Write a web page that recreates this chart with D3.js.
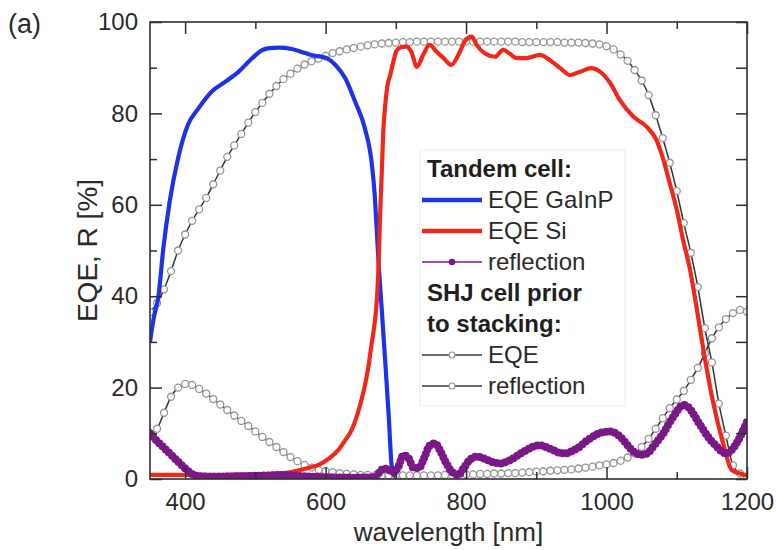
<!DOCTYPE html>
<html>
<head>
<meta charset="utf-8">
<script src="https://cdn.jsdelivr.net/npm/d3@7"></script>
<style>
  html, body { margin: 0; padding: 0; background: #fff; }
  svg { display: block; font-family: "Liberation Sans", Arial, sans-serif; }
</style>
</head>
<body>
<svg id="chart" width="776" height="550"></svg>
<script>
// Wavelength grid of the SHJ reference-cell measurements (nm)
const shjWavelength = [350,360,370,380,390,400,410,420,430,440,450,460,470,480,490,500,510,520,530,540,
  550,560,570,580,590,600,610,620,630,640,650,660,670,680,690,700,710,720,730,740,
  750,760,770,780,790,800,810,820,830,840,850,860,870,880,890,900,910,920,930,940,
  950,960,970,980,990,1000,1010,1020,1030,1040,1050,1060,1070,1080,1090,1100,1110,1120,1130,1140,
  1150,1160,1170,1180,1190,1200];

// SHJ cell prior to stacking: EQE (%)
const shjEQE = [36.5,38.5,41.5,45.5,50,53.5,56.5,59,61.5,64.5,67.5,70.5,73,75.5,78,80.3,82.3,84.3,86,87.5,
  88.7,89.8,90.7,91.4,92,92.6,93.2,93.6,94,94.3,94.6,94.9,95.1,95.3,95.4,95.5,95.6,95.6,95.7,95.7,
  95.7,95.7,95.7,95.7,95.7,95.7,95.7,95.7,95.7,95.7,95.7,95.7,95.7,95.6,95.6,95.6,95.6,95.6,95.6,95.5,
  95.5,95.5,95.4,95.3,95.1,94.7,94,92.9,91.5,89.5,87.2,84,79.6,74.6,69.2,63,56,49.5,42,33,
  25.5,16.5,9.5,3,1.2,0.5];

// SHJ cell prior to stacking: reflection (%)
const shjReflection = [9.5,11,14.5,18,20,20.8,20.6,19.7,18.7,17.5,16.3,15.1,13.9,12.7,11.6,10.4,9.2,8.1,7,5.9,
  4.8,3.9,3.1,2.5,2,1.7,1.5,1.3,1.1,1,0.9,0.9,0.8,0.8,0.8,0.8,0.8,0.8,0.8,0.8,
  0.8,0.8,0.9,0.9,0.9,1,1,1.1,1.1,1.2,1.2,1.3,1.3,1.4,1.5,1.6,1.7,1.8,1.9,2,
  2.1,2.3,2.5,2.7,3,3.2,3.5,4,4.7,5.6,7,8.8,11,13.3,15.5,17.4,19.3,21.7,24.3,27.5,
  30.8,33.2,35,36.3,37,36.6];

// Tandem cell: EQE of the GaInP top cell
const gainpWavelength = [350,355,362,369,378,390,404,419,438,457,476,495,509,520,533,552,571,585,594,605,
  614,628,642,656,666,670,673,676,680,685,690,694,697,700];
const gainpEQE = [30,35,40,50.5,60.7,70.2,77.5,81.1,84.8,86.9,89.1,92,93.8,94.3,94.4,94.1,93.2,92.6,92.4,91.8,
  90.6,87.7,82.6,76.7,68.7,62,54,46,37,25.5,13.5,3,1,0.6];

// Tandem cell: EQE of the Si bottom cell
const siWavelength = [350,380,400,450,500,540,556,575,590,605,618,628,637,645,651,656,661,665,668,673,
  675,677.5,680,682,685,688,692,696,701,708,715,722,730,739,748,758,768,779,789,798,
  808,815,827,841,853,862,872,886,905,919,934,948,962,978,991,1005,1019,1038,1057,1071,
  1081,1090,1100,1109,1119,1128,1138,1152,1166,1178,1190,1200];
const siEQE = [0.9,0.9,0.9,0.9,1,1.3,1.7,2.4,3.1,4.5,6.3,8.5,10.7,14,17.3,20.5,24.6,29,32,39.2,
  45,57.4,67,75.6,82,86,88.4,91,93.7,94.5,94.6,93.5,90.2,92.8,95,93.5,92.1,90.6,92.8,95.7,
  96.8,95,93.1,92.4,93.9,93.1,92.1,92.1,92.8,91.7,89.9,88.4,89.1,89.9,89.1,86.7,82.9,79.3,77.1,74.2,
  69.8,64.7,58.9,52.3,45.7,37.7,28.2,16.6,7.8,2,1.2,0.8];

// Tandem cell: reflection
const tandemWavelength = [350,360,370,380,390,400,410,420,440,480,520,540,560,600,640,670,677,683,690,697,
  703,711,718,725,733,740,748,756,763,772,781,789,797,806,815,822,830,840,848,858,
  867,877,886,896,905,914,924,934,943,952,962,972,981,993,1005,1015,1024,1032,1040,1050,
  1058,1066,1074,1081,1088,1095,1102,1109,1116,1123,1130,1138,1147,1157,1164,1171,1178,1185,1192,1200];
const tandemReflection = [10,8.3,6.8,5.3,3.8,2.3,1.1,0.6,0.5,0.6,0.8,0.9,0.7,0.4,0.3,0.4,1.5,2.3,2,1.4,
  2.5,5.2,4.6,2.5,2.4,4.5,7.3,7.8,6.2,3.4,1.4,0.9,2.5,4.3,4.9,4.7,4.2,3.6,3.4,3.8,
  4.5,5.5,6.3,7.1,7.4,7,6.3,5.7,5.6,6.2,7.1,8.4,9.3,10.2,10.4,9.8,8.5,7,5.8,5.3,
  5.6,7,8.6,10,11.9,13.6,15.2,16.2,15.8,14.4,12.6,10.7,8.7,7.1,6,5.6,6.3,7.8,9.8,12.5];

// Axis ticks
const xMajorTicks = [400,600,800,1000,1200];
const xMinorTicks = [500,700,900,1100];
const yMajorTicks = [0,20,40,60,80,100];
const yMinorTicks = [10,30,50,70,90];

// Legend entries
const legendRows = [
  {label: "Tandem cell:", kind: "heading"},
  {label: "EQE GaInP", kind: "gainp"},
  {label: "EQE Si", kind: "si"},
  {label: "reflection", kind: "tandemR"},
  {label: "SHJ cell prior", kind: "heading"},
  {label: "to stacking:", kind: "heading"},
  {label: "EQE", kind: "shjEQE"},
  {label: "reflection", kind: "shjR"}
];

const colors = {
  gainp: "#1f33e6",
  si: "#f0281c",
  tandemR: "#7b1888",
  grayLine: "#333333",
  grayMarker: "#949494",
  axis: "#2e2e2e",
  text: "#2a2a2a"
};

const svg = d3.select("#chart");
const plot = {left: 150, right: 747, top: 22, bottom: 479};

const x = d3.scaleLinear().domain([350, 1200]).range([plot.left, plot.right]);
const y = d3.scaleLinear().domain([0, 100]).range([plot.bottom, plot.top]);

const zip = (xs, ys) => xs.map((v, i) => [v, ys[i]]);
const line = d3.line().x(d => x(d[0])).y(d => y(d[1])).curve(d3.curveMonotoneX);

svg.append("defs").append("clipPath").attr("id", "plotClip")
  .append("rect").attr("x", plot.left).attr("y", plot.top - 4)
  .attr("width", plot.right - plot.left).attr("height", plot.bottom - plot.top + 4);

const marks = svg.append("g").attr("clip-path", "url(#plotClip)");

// SHJ reference cell curves: dark connecting line with open circles
function markerSeries(data) {
  const g = marks.append("g");
  g.append("path").attr("d", line(data)).attr("fill", "none")
    .attr("stroke", colors.grayLine).attr("stroke-width", 1.5);
  g.selectAll("circle").data(data).join("circle")
    .attr("cx", d => x(d[0])).attr("cy", d => y(d[1])).attr("r", 3.5)
    .attr("fill", "#fff").attr("stroke", colors.grayMarker).attr("stroke-width", 1.3);
}
markerSeries(zip(shjWavelength, shjReflection));
markerSeries(zip(shjWavelength, shjEQE));

// Tandem EQE curves
marks.append("path").attr("d", line(zip(gainpWavelength, gainpEQE)))
  .attr("fill", "none").attr("stroke", colors.gainp).attr("stroke-width", 4.2)
  .attr("stroke-linejoin", "round");
marks.append("path").attr("d", line(zip(siWavelength, siEQE)))
  .attr("fill", "none").attr("stroke", colors.si).attr("stroke-width", 4.2)
  .attr("stroke-linejoin", "round");

// Tandem reflection: dense dotted trace
const tandemPath = line(zip(tandemWavelength, tandemReflection));
marks.append("path").attr("d", tandemPath).attr("fill", "none")
  .attr("stroke", colors.tandemR).attr("stroke-width", 5.5).attr("stroke-linejoin", "round");
marks.append("path").attr("d", tandemPath).attr("fill", "none")
  .attr("stroke", colors.tandemR).attr("stroke-width", 8)
  .attr("stroke-linecap", "round").attr("stroke-dasharray", "0 4.5");

// Axes with inward ticks on all four sides
function styleAxis(g) {
  g.select(".domain").remove();
  g.selectAll(".tick line").attr("stroke", colors.axis).attr("stroke-width", 1.5);
  g.selectAll(".tick text").attr("fill", colors.text)
    .style("font-size", "24px").style("font-family", "'Liberation Sans', Arial, sans-serif");
}
svg.append("g").attr("transform", `translate(0,${plot.bottom})`)
  .call(d3.axisBottom(x).tickValues(xMajorTicks).tickSize(-12).tickPadding(14).tickFormat(d3.format("d")))
  .call(styleAxis);
svg.append("g").attr("transform", `translate(0,${plot.bottom})`)
  .call(d3.axisBottom(x).tickValues(xMinorTicks).tickSize(-7).tickFormat(""))
  .call(styleAxis);
svg.append("g").attr("transform", `translate(0,${plot.top})`)
  .call(d3.axisTop(x).tickValues(xMajorTicks).tickSize(-12).tickFormat(""))
  .call(styleAxis);
svg.append("g").attr("transform", `translate(0,${plot.top})`)
  .call(d3.axisTop(x).tickValues(xMinorTicks).tickSize(-7).tickFormat(""))
  .call(styleAxis);
svg.append("g").attr("transform", `translate(${plot.left},0)`)
  .call(d3.axisLeft(y).tickValues(yMajorTicks).tickSize(-12).tickPadding(12).tickFormat(d3.format("d")))
  .call(styleAxis);
svg.append("g").attr("transform", `translate(${plot.left},0)`)
  .call(d3.axisLeft(y).tickValues(yMinorTicks).tickSize(-7).tickFormat(""))
  .call(styleAxis);
svg.append("g").attr("transform", `translate(${plot.right},0)`)
  .call(d3.axisRight(y).tickValues(yMajorTicks.concat(yMinorTicks)).tickSize(-11).tickFormat(""))
  .call(styleAxis);

// Frame
svg.append("rect").attr("x", plot.left).attr("y", plot.top)
  .attr("width", plot.right - plot.left).attr("height", plot.bottom - plot.top)
  .attr("fill", "none").attr("stroke", colors.axis).attr("stroke-width", 1.6);

// Axis titles and panel label
svg.append("text").attr("x", (plot.left + plot.right) / 2).attr("y", 541)
  .attr("text-anchor", "middle").attr("fill", colors.text).style("font-size", "26px")
  .text("wavelength [nm]");
svg.append("text").attr("transform", `translate(97,${(plot.top + plot.bottom) / 2}) rotate(-90)`)
  .attr("text-anchor", "middle").attr("fill", colors.text).style("font-size", "28px")
  .text("EQE, R [%]");
svg.append("text").attr("x", 8).attr("y", 33).attr("fill", colors.text)
  .style("font-size", "27px").text("(a)");

// Legend
const legend = svg.append("g");
legend.append("rect").attr("x", 420).attr("y", 150).attr("width", 205).attr("height", 256)
  .attr("fill", "#fff").attr("stroke", "#ececec").attr("stroke-width", 1);
const rowY = i => 177 + i * 31;
const sx0 = 422, sx1 = 482, textX = 488;
legendRows.forEach((row, i) => {
  const yy = rowY(i);
  if (row.kind === "heading") {
    legend.append("text").attr("x", 427).attr("y", yy).attr("fill", "#1e1e1e")
      .style("font-size", "24px").style("font-weight", "bold").text(row.label);
    return;
  }
  const ly = yy - 8;
  if (row.kind === "gainp" || row.kind === "si") {
    legend.append("line").attr("x1", sx0).attr("x2", sx1).attr("y1", ly).attr("y2", ly)
      .attr("stroke", colors[row.kind]).attr("stroke-width", 4.5);
  } else if (row.kind === "tandemR") {
    legend.append("line").attr("x1", sx0).attr("x2", sx1).attr("y1", ly).attr("y2", ly)
      .attr("stroke", colors.tandemR).attr("stroke-width", 1.3);
    legend.append("circle").attr("cx", (sx0 + sx1) / 2).attr("cy", ly).attr("r", 3.3)
      .attr("fill", colors.tandemR);
  } else {
    legend.append("line").attr("x1", sx0).attr("x2", sx1).attr("y1", ly).attr("y2", ly)
      .attr("stroke", "#6a6a6a").attr("stroke-width", 2);
    legend.append("circle").attr("cx", (sx0 + sx1) / 2).attr("cy", ly).attr("r", 3)
      .attr("fill", "#fff").attr("stroke", colors.grayMarker).attr("stroke-width", 1.2);
  }
  legend.append("text").attr("x", textX).attr("y", yy).attr("fill", colors.text)
    .style("font-size", "24px").text(row.label);
});
</script>
</body>
</html>
